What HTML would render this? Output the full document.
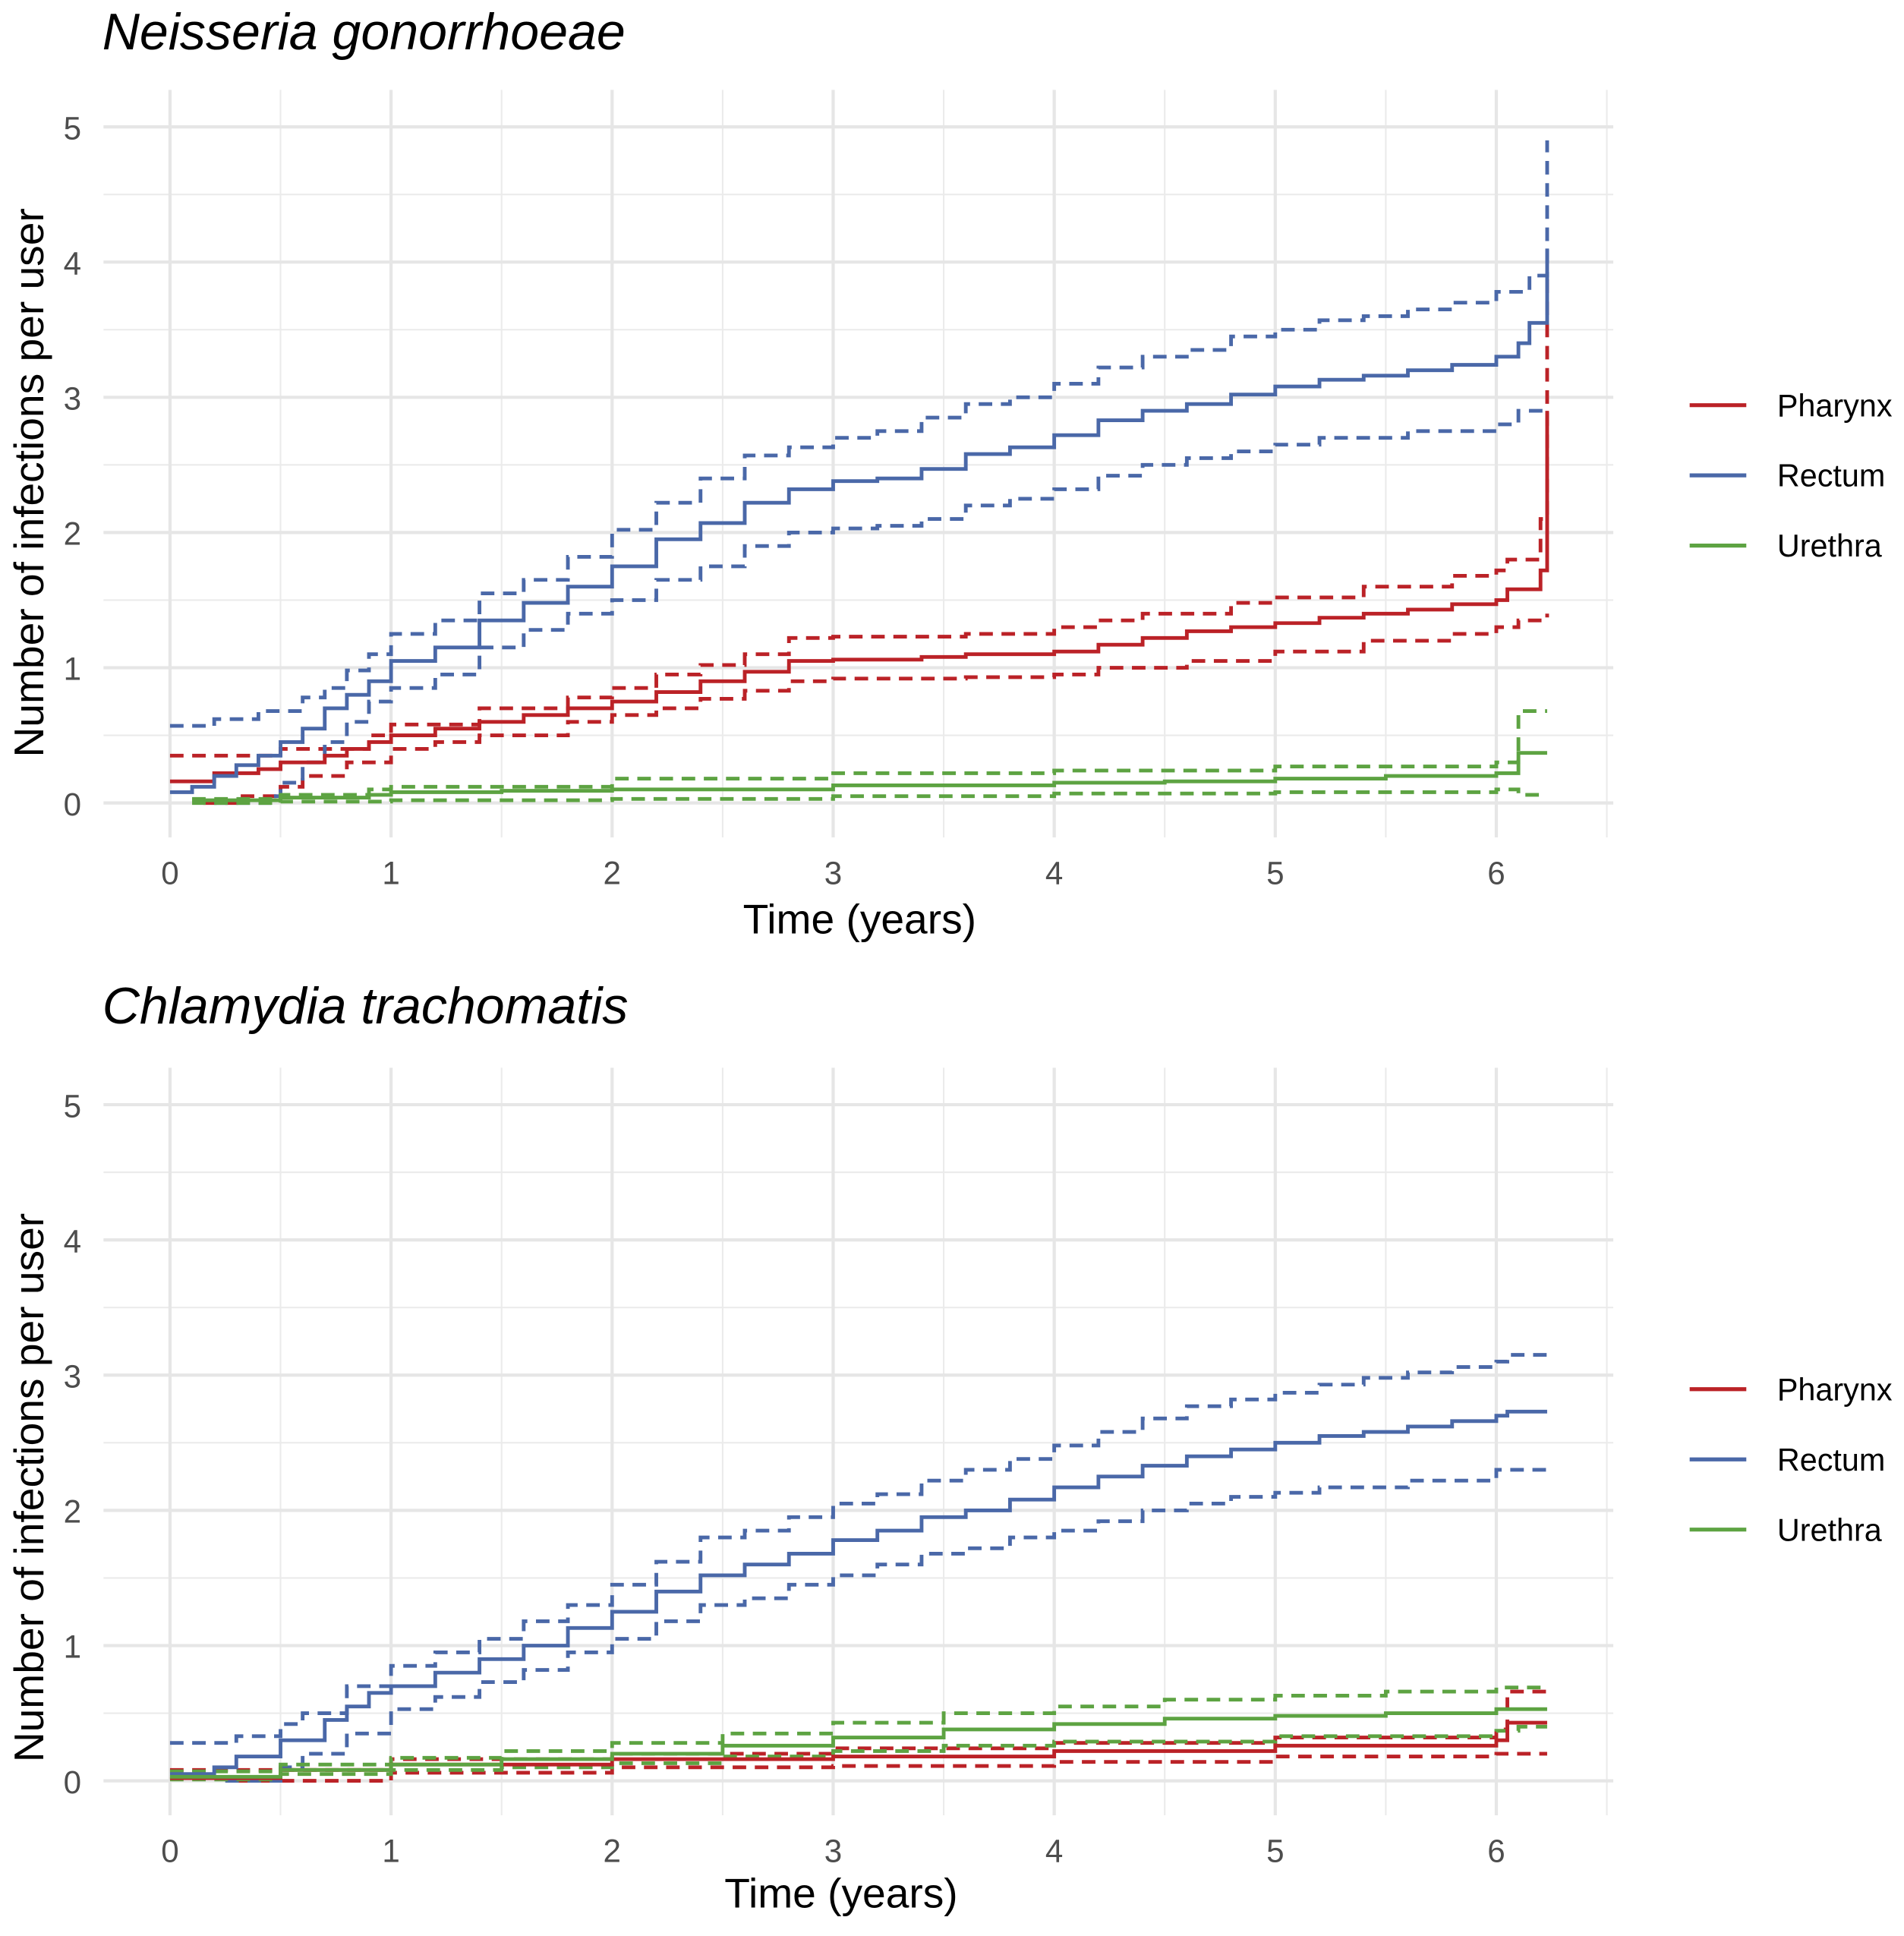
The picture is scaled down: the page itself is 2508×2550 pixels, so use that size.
<!DOCTYPE html>
<html><head><meta charset="utf-8"><style>
html,body{margin:0;padding:0;background:#fff;}
svg{display:block;}
text{font-family:"Liberation Sans",Arial,sans-serif;}
</style></head><body>
<svg id="chart" width="2508" height="2550" viewBox="0 0 1546 1572" xmlns="http://www.w3.org/2000/svg">
</svg>
<script>
// ---- data: step curves [time, value] ----
const ngRectum = [[0,0.08],[0.1,0.12],[0.2,0.2],[0.3,0.28],[0.4,0.35],[0.5,0.45],[0.6,0.55],[0.7,0.7],[0.8,0.8],[0.9,0.9],[1.0,1.05],[1.2,1.15],[1.4,1.35],[1.6,1.48],[1.8,1.6],[2.0,1.75],[2.2,1.95],[2.4,2.07],[2.6,2.22],[2.8,2.32],[3.0,2.38],[3.2,2.4],[3.4,2.47],[3.6,2.58],[3.8,2.63],[4.0,2.72],[4.2,2.83],[4.4,2.9],[4.6,2.95],[4.8,3.02],[5.0,3.08],[5.2,3.13],[5.4,3.16],[5.6,3.2],[5.8,3.24],[6.0,3.3],[6.1,3.4],[6.15,3.55],[6.23,4.1]];
const ngRectumHi = [[0,0.57],[0.2,0.62],[0.4,0.68],[0.6,0.78],[0.7,0.85],[0.8,0.98],[0.9,1.1],[1.0,1.25],[1.2,1.35],[1.4,1.55],[1.6,1.65],[1.8,1.82],[2.0,2.02],[2.2,2.22],[2.4,2.4],[2.6,2.57],[2.8,2.63],[3.0,2.7],[3.2,2.75],[3.4,2.85],[3.6,2.95],[3.8,3.0],[4.0,3.1],[4.2,3.22],[4.4,3.3],[4.6,3.35],[4.8,3.45],[5.0,3.5],[5.2,3.57],[5.4,3.6],[5.6,3.65],[5.8,3.7],[6.0,3.78],[6.15,3.9],[6.23,4.9]];
const ngRectumLo = [[0.2,0],[0.45,0.05],[0.5,0.15],[0.6,0.3],[0.7,0.45],[0.8,0.6],[0.9,0.75],[1.0,0.85],[1.2,0.95],[1.4,1.15],[1.6,1.28],[1.8,1.4],[2.0,1.5],[2.2,1.65],[2.4,1.75],[2.6,1.9],[2.8,2.0],[3.0,2.03],[3.2,2.05],[3.4,2.1],[3.6,2.2],[3.8,2.25],[4.0,2.32],[4.2,2.42],[4.4,2.5],[4.6,2.55],[4.8,2.6],[5.0,2.65],[5.2,2.7],[5.6,2.75],[6.0,2.8],[6.1,2.9],[6.23,2.85]];
const ngPharynx = [[0,0.16],[0.2,0.22],[0.4,0.25],[0.5,0.3],[0.7,0.35],[0.8,0.4],[0.9,0.45],[1.0,0.5],[1.2,0.55],[1.4,0.6],[1.6,0.65],[1.8,0.7],[2.0,0.75],[2.2,0.82],[2.4,0.9],[2.6,0.97],[2.8,1.05],[3.0,1.06],[3.4,1.08],[3.6,1.1],[4.0,1.12],[4.2,1.17],[4.4,1.22],[4.6,1.27],[4.8,1.3],[5.0,1.33],[5.2,1.37],[5.4,1.4],[5.6,1.43],[5.8,1.47],[6.0,1.5],[6.05,1.58],[6.2,1.72],[6.23,2.9]];
const ngPharynxHi = [[0,0.35],[0.5,0.4],[0.9,0.5],[1.0,0.58],[1.4,0.7],[1.8,0.78],[2.0,0.85],[2.2,0.95],[2.4,1.02],[2.6,1.1],[2.8,1.22],[3.0,1.23],[3.6,1.25],[4.0,1.3],[4.2,1.35],[4.4,1.4],[4.8,1.48],[5.0,1.52],[5.4,1.6],[5.8,1.68],[6.0,1.72],[6.05,1.8],[6.2,2.1],[6.23,3.9]];
const ngPharynxLo = [[0.15,0],[0.3,0.05],[0.5,0.12],[0.6,0.2],[0.8,0.3],[1.0,0.4],[1.2,0.45],[1.4,0.5],[1.8,0.6],[2.0,0.65],[2.2,0.7],[2.4,0.77],[2.6,0.83],[2.8,0.9],[3.0,0.92],[3.6,0.93],[4.0,0.95],[4.2,1.0],[4.6,1.05],[5.0,1.12],[5.4,1.2],[5.8,1.25],[6.0,1.3],[6.1,1.35],[6.23,1.4]];
const ngUrethra = [[0.1,0.02],[0.5,0.04],[0.9,0.06],[1.0,0.08],[1.5,0.09],[2.0,0.1],[3.0,0.13],[4.0,0.15],[4.5,0.16],[5.0,0.18],[5.5,0.2],[6.0,0.22],[6.1,0.37],[6.23,0.37]];
const ngUrethraHi = [[0.1,0.03],[0.5,0.06],[0.9,0.1],[1.0,0.12],[2.0,0.18],[3.0,0.22],[4.0,0.24],[5.0,0.27],[6.0,0.3],[6.1,0.68],[6.23,0.68]];
const ngUrethraLo = [[0.1,0],[0.5,0.01],[1.0,0.02],[2.0,0.03],[3.0,0.05],[4.0,0.07],[5.0,0.08],[6.0,0.1],[6.1,0.06],[6.23,0.06]];

const ctRectum = [[0,0.05],[0.2,0.1],[0.3,0.18],[0.5,0.3],[0.7,0.45],[0.8,0.55],[0.9,0.65],[1.0,0.7],[1.2,0.8],[1.4,0.9],[1.6,1.0],[1.8,1.13],[2.0,1.25],[2.2,1.4],[2.4,1.52],[2.6,1.6],[2.8,1.68],[3.0,1.78],[3.2,1.85],[3.4,1.95],[3.6,2.0],[3.8,2.08],[4.0,2.17],[4.2,2.25],[4.4,2.33],[4.6,2.4],[4.8,2.45],[5.0,2.5],[5.2,2.55],[5.4,2.58],[5.6,2.62],[5.8,2.66],[6.0,2.7],[6.05,2.73],[6.23,2.73]];
const ctRectumHi = [[0,0.28],[0.3,0.33],[0.5,0.42],[0.6,0.5],[0.8,0.7],[1.0,0.85],[1.2,0.95],[1.4,1.05],[1.6,1.18],[1.8,1.3],[2.0,1.45],[2.2,1.62],[2.4,1.8],[2.6,1.85],[2.8,1.95],[3.0,2.05],[3.2,2.12],[3.4,2.22],[3.6,2.3],[3.8,2.38],[4.0,2.48],[4.2,2.58],[4.4,2.68],[4.6,2.77],[4.8,2.82],[5.0,2.87],[5.2,2.93],[5.4,2.98],[5.6,3.02],[5.8,3.06],[6.0,3.1],[6.05,3.15],[6.23,3.15]];
const ctRectumLo = [[0.25,0],[0.5,0.1],[0.6,0.2],[0.8,0.35],[1.0,0.53],[1.2,0.62],[1.4,0.73],[1.6,0.82],[1.8,0.95],[2.0,1.05],[2.2,1.18],[2.4,1.3],[2.6,1.35],[2.8,1.45],[3.0,1.52],[3.2,1.6],[3.4,1.68],[3.6,1.72],[3.8,1.8],[4.0,1.85],[4.2,1.92],[4.4,2.0],[4.6,2.05],[4.8,2.1],[5.0,2.13],[5.2,2.17],[5.6,2.22],[6.0,2.3],[6.23,2.3]];
const ctPharynx = [[0,0.02],[0.5,0.08],[1.0,0.12],[2.0,0.16],[3.0,0.18],[4.0,0.22],[5.0,0.26],[6.0,0.3],[6.05,0.43],[6.23,0.43]];
const ctPharynxHi = [[0,0.08],[1.0,0.16],[2.0,0.2],[3.0,0.24],[4.0,0.28],[5.0,0.32],[6.0,0.38],[6.05,0.66],[6.23,0.66]];
const ctPharynxLo = [[0.3,0],[1.0,0.06],[2.0,0.1],[3.0,0.11],[4.0,0.14],[5.0,0.18],[6.0,0.2],[6.23,0.2]];
const ctUrethra = [[0,0.03],[0.5,0.08],[1.0,0.12],[1.5,0.16],[2.0,0.2],[2.5,0.26],[3.0,0.32],[3.5,0.38],[4.0,0.42],[4.5,0.46],[5.0,0.48],[5.5,0.5],[6.0,0.53],[6.23,0.53]];
const ctUrethraHi = [[0,0.07],[0.5,0.12],[1.0,0.17],[1.5,0.22],[2.0,0.28],[2.5,0.35],[3.0,0.43],[3.5,0.5],[4.0,0.55],[4.5,0.6],[5.0,0.63],[5.5,0.66],[6.0,0.69],[6.23,0.69]];
const ctUrethraLo = [[0,0.01],[0.5,0.05],[1.0,0.08],[1.5,0.1],[2.0,0.13],[2.5,0.18],[3.0,0.22],[3.5,0.26],[4.0,0.29],[5.0,0.33],[6.0,0.37],[6.1,0.4],[6.23,0.4]];

const xTicks = [0,1,2,3,4,5,6];
const yTicks = [0,1,2,3,4,5];
const seriesNames = ["Pharynx","Rectum","Urethra"];

const NS = "http://www.w3.org/2000/svg";
const svg = document.getElementById('chart');
const COLORS = {Pharynx:"#bb2227",Rectum:"#4a68a8",Urethra:"#5da342"};
function mk(tag, attrs, parent){const e=document.createElementNS(NS,tag);for(const k in attrs)e.setAttribute(k,attrs[k]);(parent||svg).appendChild(e);return e;}

function panel(id, y0, title, titleY, xlabX, xlabY, ylabY, legY, data){
  const g = mk('g',{});
  
  
  const X = t => 138 + t*179.5;
  const Y = v => y0 - v*109.8;
  const L=84, R=1310, T=Y(5)-30, B=y0+28;
  for(let t=0.5;t<6.6;t+=1){mk('line',{x1:X(t),x2:X(t),y1:T,y2:B,stroke:"#ebebeb","stroke-width":1.3},g);}
  for(let v=0.5;v<5;v+=1){mk('line',{x1:L,x2:R,y1:Y(v),y2:Y(v),stroke:"#ebebeb","stroke-width":1.3},g);}
  xTicks.forEach(t=>{const l=mk('line',{x1:X(t),x2:X(t),y1:T,y2:B,stroke:"#e6e6e6","stroke-width":2.6},g);
    
    const tx=mk('text',{x:X(t),y:B+38,"text-anchor":"middle","font-size":26,fill:"#4d4d4d"},g);tx.textContent=t;
    });
  yTicks.forEach(v=>{const l=mk('line',{x1:L,x2:R,y1:Y(v),y2:Y(v),stroke:"#e6e6e6","stroke-width":2.6},g);
    
    const tx=mk('text',{x:66,y:Y(v)+10,"text-anchor":"end","font-size":26,fill:"#4d4d4d"},g);tx.textContent=v;
    });
  data.forEach(d=>{
    let p='';d.pts.forEach((pt,i)=>{if(i===0)p+='M'+X(pt[0])+','+Y(pt[1]);else p+='H'+X(pt[0])+'V'+Y(pt[1]);});
    const a={d:p,fill:"none",stroke:COLORS[d.name],"stroke-width":3};
    if(d.dash)a["stroke-dasharray"]="11,7";
    const path=mk('path',a,g);
    
    
  });
  const tt=mk('text',{x:83,y:titleY,"font-size":42,"font-style":"italic",fill:"#000"},g);tt.textContent=title;
  
  const xl=mk('text',{x:xlabX,y:xlabY,"text-anchor":"middle","font-size":34,fill:"#000"},g);xl.textContent="Time (years)";
  
  const yl=mk('text',{x:0,y:0,"text-anchor":"middle","font-size":34,fill:"#000",transform:`translate(35,${ylabY}) rotate(-90)`},g);yl.textContent="Number of infections per user";
  
  seriesNames.forEach((n,i)=>{
    const ly=legY+i*57;
    const le=mk('g',{},g);
    
    mk('line',{x1:1372,x2:1418,y1:ly,y2:ly,stroke:COLORS[n],"stroke-width":3.2},le);
    const t=mk('text',{x:1443,y:ly+9,"font-size":25.5,fill:"#000"},le);t.textContent=n;
  });
}
function S(prefix){return [
  {name:"Pharynx",pts:window[prefix+'PharynxHi'],dash:true,label:prefix+'-pharynx-upper'},
  {name:"Pharynx",pts:window[prefix+'PharynxLo'],dash:true,label:prefix+'-pharynx-lower'},
  {name:"Rectum",pts:window[prefix+'RectumHi'],dash:true,label:prefix+'-rectum-upper'},
  {name:"Rectum",pts:window[prefix+'RectumLo'],dash:true,label:prefix+'-rectum-lower'},
  {name:"Urethra",pts:window[prefix+'UrethraHi'],dash:true,label:prefix+'-urethra-upper'},
  {name:"Urethra",pts:window[prefix+'UrethraLo'],dash:true,label:prefix+'-urethra-lower'},
  {name:"Pharynx",pts:window[prefix+'Pharynx'],dash:false,label:prefix+'-pharynx-line'},
  {name:"Rectum",pts:window[prefix+'Rectum'],dash:false,label:prefix+'-rectum-line'},
  {name:"Urethra",pts:window[prefix+'Urethra'],dash:false,label:prefix+'-urethra-line'}];}
</script>
<script>
window.ngRectum=ngRectum;window.ngRectumHi=ngRectumHi;window.ngRectumLo=ngRectumLo;
window.ngPharynx=ngPharynx;window.ngPharynxHi=ngPharynxHi;window.ngPharynxLo=ngPharynxLo;
window.ngUrethra=ngUrethra;window.ngUrethraHi=ngUrethraHi;window.ngUrethraLo=ngUrethraLo;
window.ctRectum=ctRectum;window.ctRectumHi=ctRectumHi;window.ctRectumLo=ctRectumLo;
window.ctPharynx=ctPharynx;window.ctPharynxHi=ctPharynxHi;window.ctPharynxLo=ctPharynxLo;
window.ctUrethra=ctUrethra;window.ctUrethraHi=ctUrethraHi;window.ctUrethraLo=ctUrethraLo;
panel('gonorrhoeae',652,'Neisseria gonorrhoeae',40,698,758,392,329,S('ng'));
panel('chlamydia',1446,'Chlamydia trachomatis',831,683,1549,1208,1128,S('ct'));
</script>
</body></html>
